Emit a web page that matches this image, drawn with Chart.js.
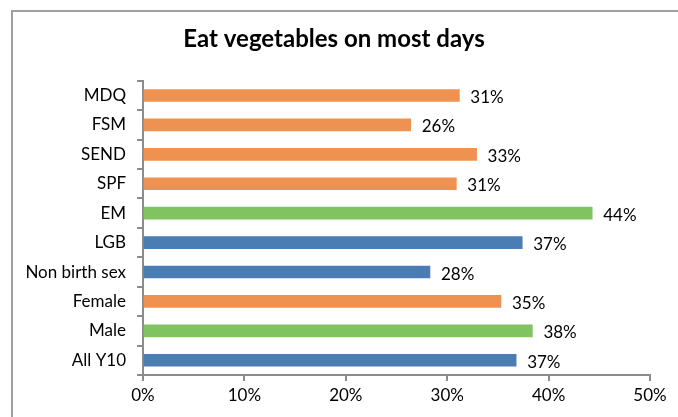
<!DOCTYPE html>
<html lang="en">
<head>
  <meta charset="UTF-8">
  <title>Eat vegetables on most days</title>
  <script src="https://cdn.jsdelivr.net/npm/chart.js"></script>
  <style>
      body { margin: 0; background: #fff; font-family: Lato, sans-serif; }
      #wrap { position: relative; width: 678px; height: 417px; overflow: hidden; }
      #frame { position: absolute; left: 11px; top: 10px; width: 700px; height: 440px; border: 2px solid #a0a0a0; }
      #myChart { position: absolute; left: 0; top: 0; }
  </style>
</head>
<body>
  <div id="wrap">
    <div id="frame"></div>
    <canvas id="myChart" width="678" height="417"></canvas>
  </div>

  <script>
    // Groups, top to bottom as drawn
    const categories = ['MDQ', 'FSM', 'SEND', 'SPF', 'EM', 'LGB', 'Non birth sex', 'Female', 'Male', 'All Y10'];
    const values = [31.2, 26.4, 32.9, 30.9, 44.3, 37.4, 28.3, 35.3, 38.4, 36.8];
    const valueLabels = ['31%', '26%', '33%', '31%', '44%', '37%', '28%', '35%', '38%', '37%'];
    const barColors = ['#EF9150', '#EF9150', '#EF9150', '#EF9150', '#80C462',
                       '#4A7DB4', '#4A7DB4', '#EF9150', '#80C462', '#4A7DB4'];
    const xTicks = [0, 10, 20, 30, 40, 50];

    // small inline label plugin (no datalabels plugin offline)
    const barLabels = {
      id: 'barLabels',
      afterDatasetsDraw(chart) {
        const ctx = chart.ctx;
        const meta = chart.getDatasetMeta(0);
        ctx.save();
        ctx.font = '17px Lato, sans-serif';
        ctx.fillStyle = '#000';
        ctx.textAlign = 'left';
        ctx.textBaseline = 'middle';
        meta.data.forEach((bar, i) => {
          ctx.fillText(valueLabels[i], bar.x + 11, bar.y + 2);
        });
        ctx.restore();
      }
    };

    const ctx = document.getElementById('myChart').getContext('2d');
    const myChart = new Chart(ctx, {
      type: 'bar',
      data: {
        labels: categories,
        datasets: [{
          data: values,
          backgroundColor: barColors,
          barThickness: 12
        }]
      },
      plugins: [barLabels],
      options: {
        indexAxis: 'y',
        responsive: false,
        animation: false,
        layout: { padding: { left: 18, right: 28, top: 0, bottom: 0 } },
        plugins: {
          legend: { display: false },
          tooltip: { enabled: false },
          title: {
            display: true,
            text: 'Eat vegetables on most days',
            color: '#000',
            font: { family: 'Lato', size: 24, weight: 'bold', lineHeight: 1.2 },
            padding: { top: 25, bottom: 27 }
          }
        },
        scales: {
          x: {
            min: 0,
            max: 50,
            afterFit: (scale) => { scale.height = 42; },
            afterBuildTicks: (scale) => { scale.ticks = xTicks.map(v => ({ value: v })); },
            ticks: {
              color: '#000',
              font: { family: 'Lato', size: 17 },
              padding: 4,
              callback: (v) => v + '%'
            },
            grid: { drawOnChartArea: false, color: '#8c8c8c', lineWidth: 2, tickLength: 6 },
            border: { color: '#8c8c8c', width: 2 }
          },
          y: {
            afterFit: (scale) => { scale.width = 125; },
            ticks: {
              color: '#000',
              font: { family: 'Lato', size: 17 },
              padding: 11
            },
            grid: { drawOnChartArea: false, color: '#8c8c8c', lineWidth: 2, tickLength: 6 },
            border: { color: '#8c8c8c', width: 2 }
          }
        }
      }
    });
  </script>
</body>
</html>
